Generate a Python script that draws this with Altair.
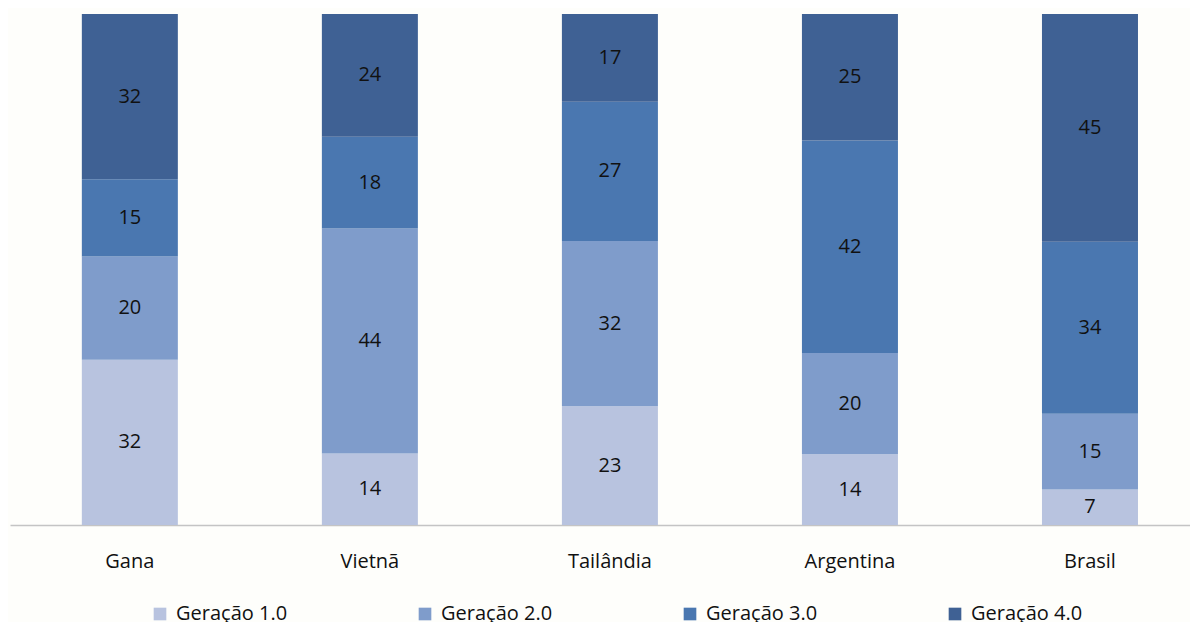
import altair as alt
import pandas as pd

paises = ["Gana", "Vietnã", "Tailândia", "Argentina", "Brasil"]
series = ["Geração 1.0", "Geração 2.0", "Geração 3.0", "Geração 4.0"]
g1 = [32, 14, 23, 14, 7]
g2 = [20, 44, 32, 20, 15]
g3 = [15, 18, 27, 42, 34]
g4 = [32, 24, 17, 25, 45]
cores = ["#b8c3df", "#7f9ccb", "#4a77b0", "#3f6194"]

rows = []
for vals, s in zip([g1, g2, g3, g4], series):
    for p, v in zip(paises, vals):
        rows.append({"pais": p, "serie": s, "valor": v, "ordem": series.index(s)})
df = pd.DataFrame(rows)

FONT = "Open Sans"

base = alt.Chart(df).transform_stack(
    stack="valor", groupby=["pais"], as_=["y0", "y1"], offset="normalize",
    sort=[alt.SortField("ordem", order="ascending")]
).transform_calculate(mid="(datum.y0 + datum.y1) / 2")

xenc = alt.X("pais:N", sort=paises, title=None,
             scale=alt.Scale(paddingInner=0.6, paddingOuter=0.258, align=0.58),
             axis=alt.Axis(labelAngle=0, ticks=False, domainColor="#c4c4c4", domainWidth=1.5,
                           labelFont=FONT, labelFontSize=20, labelColor="#111111",
                           labelPadding=26, grid=False))

bars = base.mark_bar().encode(
    x=xenc,
    y=alt.Y("y0:Q", scale=alt.Scale(domain=[0, 1]), axis=None),
    y2="y1:Q",
    color=alt.Color("serie:N", sort=series, scale=alt.Scale(domain=series, range=cores),
                    legend=alt.Legend(title=None, orient="none", direction="horizontal",
                                      legendX=140, legendY=590, symbolType="square",
                                      symbolSize=160, symbolStrokeWidth=0,
                                      labelFont=FONT, labelFontSize=20, labelColor="#111111",
                                      labelOffset=6, columnPadding=127, padding=0)),
)

labels = base.mark_text(font=FONT, fontSize=20, color="#111111", baseline="middle").encode(
    x=alt.X("pais:N", sort=paises),
    y=alt.Y("mid:Q"),
    text=alt.Text("valor:Q"),
)

chart = (bars + labels).properties(
    width=1180, height=511,
    background="#fefefb",
    padding={"left": 2, "top": 6, "right": 0, "bottom": 97},
    autosize=alt.AutoSizeParams(type="none"),
).configure_view(stroke=None)

chart.save("out.html", embed_options={"renderer": "svg", "actions": False})
